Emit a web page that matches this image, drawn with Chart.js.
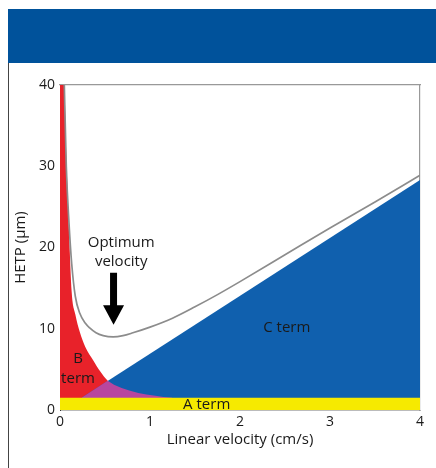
<!DOCTYPE html>
<html lang="en">
<head>
    <meta charset="UTF-8">
    <title>Van Deemter plot</title>
    <style>
        body {
            margin: 0;
            background-color: #ffffff;
            font-family: 'Open Sans', sans-serif;
        }
        #header {
            position: absolute;
            left: 8px;
            top: 9px;
            width: 428px;
            height: 54px;
            background-color: #00529b;
        }
        #panelEdge {
            position: absolute;
            left: 8px;
            top: 63px;
            width: 1px;
            height: 405px;
            background-color: #444;
        }
        #chart {
            position: absolute;
            left: 0;
            top: 0;
        }
    </style>
</head>
<body>
    <div id="header"></div>
    <div id="panelEdge"></div>
    <canvas id="chart" width="436" height="468"></canvas>

    <script src="https://cdn.jsdelivr.net/npm/chart.js"></script>
    <script>
        // Values (x = linear velocity cm/s, y = HETP um)
        const xTicks = [0, 1, 2, 3, 4];
        const yTicks = [0, 10, 20, 30, 40];

        // A term: flat band
        const aTermX = [0, 4];
        const aTermY = [1.5, 1.5];

        // B term: upper edge of the red area
        const bTermX = [0, 0.045, 0.074, 0.1, 0.13, 0.17, 0.22, 0.28, 0.37, 0.45, 0.53, 0.6, 0.685, 0.77, 0.87, 0.96, 1.06, 1.15, 1.25, 4];
        const bTermY = [40, 40, 30, 22, 14.5, 11.8, 9.6, 7.8, 6.1, 4.7, 3.6, 3.1, 2.7, 2.4, 2.1, 1.9, 1.75, 1.6, 1.5, 1.5];

        // C term: straight upper edge of the blue area
        const cTermX = [0.24, 4];
        const cTermY = [1.5, 28.3];

        // overlap of B and C terms (magenta)
        const overlapX = [0.24, 0.53, 0.6, 0.685, 0.77, 0.87, 0.96, 1.06, 1.15, 1.25];
        const overlapY = [1.5, 3.6, 3.1, 2.7, 2.4, 2.1, 1.9, 1.75, 1.6, 1.5];

        // total HETP curve
        const totalX = [0.048, 0.07, 0.1, 0.13, 0.17, 0.22, 0.28, 0.33, 0.4, 0.48, 0.59, 0.7, 0.81, 1.0, 1.25, 1.5, 1.75, 2.0, 2.5, 3.0, 3.5, 4];
        const totalY = [40, 30, 23, 18, 14, 11.9, 10.7, 10.1, 9.5, 9.15, 9.0, 9.15, 9.5, 10.2, 11.3, 12.7, 14.2, 15.8, 19.1, 22.4, 25.6, 28.9];

        function toPoints(xs, ys) {
            return xs.map((x, i) => ({ x: x, y: ys[i] }));
        }

        const FONT = "'Open Sans', sans-serif";
        const INK = '#1a1a1a';

        // text and arrow drawn at data coordinates
        const labels = [
            { text: 'Optimum', x: 0.68, y: 20.6 },
            { text: 'velocity', x: 0.68, y: 18.2 },
            { text: 'B', x: 0.2, y: 6.3 },
            { text: 'term', x: 0.2, y: 3.9 },
            { text: 'A term', x: 1.63, y: 0.6 },
            { text: 'C term', x: 2.52, y: 10.1 }
        ];
        const arrow = { x: 0.595, top: 16.9, headTop: 12.9, tip: 10.5 };

        const notesPlugin = {
            id: 'notes',
            afterDatasetsDraw(chart) {
                const ctx = chart.ctx;
                const xs = chart.scales.x;
                const ys = chart.scales.y;
                ctx.save();
                ctx.fillStyle = INK;
                ctx.font = '15px ' + FONT;
                ctx.textAlign = 'center';
                ctx.textBaseline = 'middle';
                labels.forEach(l => {
                    ctx.fillText(l.text, xs.getPixelForValue(l.x), ys.getPixelForValue(l.y));
                });

                // optimum arrow
                const ax = xs.getPixelForValue(arrow.x);
                const top = ys.getPixelForValue(arrow.top);
                const headTop = ys.getPixelForValue(arrow.headTop);
                const tip = ys.getPixelForValue(arrow.tip);
                ctx.fillStyle = '#000';
                ctx.beginPath();
                ctx.moveTo(ax - 3.5, top);
                ctx.lineTo(ax + 3.5, top);
                ctx.lineTo(ax + 3.5, headTop);
                ctx.lineTo(ax + 10.5, headTop);
                ctx.lineTo(ax, tip);
                ctx.lineTo(ax - 10.5, headTop);
                ctx.lineTo(ax - 3.5, headTop);
                ctx.closePath();
                ctx.fill();
                ctx.restore();
            }
        };

        const ctx = document.getElementById('chart').getContext('2d');
        const chart = new Chart(ctx, {
            type: 'line',
            data: {
                datasets: [
                    {
                        label: 'total',
                        data: toPoints(totalX, totalY),
                        borderColor: '#8c8c8c',
                        borderWidth: 1.7,
                        cubicInterpolationMode: 'monotone',
                        pointRadius: 0,
                        fill: false,
                        order: 1
                    },
                    {
                        label: 'A term',
                        data: toPoints(aTermX, aTermY),
                        borderColor: '#f6ea00',
                        borderWidth: 0,
                        backgroundColor: '#f6ea00',
                        pointRadius: 0,
                        fill: 'origin',
                        order: 2
                    },
                    {
                        label: 'overlap',
                        data: toPoints(overlapX, overlapY),
                        borderColor: '#b8469f',
                        borderWidth: 0,
                        backgroundColor: '#b8469f',
                        tension: 0,
                        pointRadius: 0,
                        fill: 'origin',
                        order: 3
                    },
                    {
                        label: 'C term',
                        data: toPoints(cTermX, cTermY),
                        borderColor: '#1060ae',
                        borderWidth: 0,
                        backgroundColor: '#1060ae',
                        tension: 0,
                        pointRadius: 0,
                        fill: 'origin',
                        order: 4
                    },
                    {
                        label: 'B term',
                        data: toPoints(bTermX, bTermY),
                        borderColor: '#e8222a',
                        borderWidth: 0,
                        backgroundColor: '#e8222a',
                        cubicInterpolationMode: 'monotone',
                        pointRadius: 0,
                        fill: 'origin',
                        order: 5
                    }
                ]
            },
            options: {
                responsive: false,
                animation: false,
                devicePixelRatio: 1,
                layout: {
                    padding: { left: 8, right: 16, top: 85, bottom: 18 }
                },
                plugins: {
                    legend: { display: false },
                    tooltip: { enabled: false }
                },
                scales: {
                    x: {
                        type: 'linear',
                        min: 0,
                        max: 4,
                        afterBuildTicks: s => { s.ticks = xTicks.map(v => ({ value: v })); },
                        afterFit: s => { s.height = 40; },
                        grid: { display: false, drawTicks: false },
                        border: { color: '#bbbbbb', width: 1 },
                        ticks: { color: INK, padding: 4, font: { family: FONT, size: 14 } },
                        title: {
                            display: true,
                            text: 'Linear velocity (cm/s)',
                            color: INK,
                            padding: { top: 0, bottom: 1 },
                            font: { family: FONT, size: 15 }
                        }
                    },
                    y: {
                        type: 'linear',
                        min: 0,
                        max: 40,
                        afterBuildTicks: s => { s.ticks = yTicks.map(v => ({ value: v })); },
                        afterFit: s => { s.width = 52; },
                        grid: { display: false, drawTicks: false },
                        border: { color: '#333333', width: 1 },
                        ticks: { color: INK, padding: 5, font: { family: FONT, size: 14 } },
                        title: {
                            display: true,
                            text: 'HETP (\u00b5m)',
                            color: INK,
                            padding: { top: 4, bottom: 0 },
                            font: { family: FONT, size: 15 }
                        }
                    },
                    xTop: {
                        type: 'linear',
                        position: 'top',
                        min: 0,
                        max: 4,
                        afterFit: s => { s.height = 0; },
                        grid: { display: false, drawTicks: false },
                        ticks: { display: false },
                        border: { color: '#999999', width: 1.2 }
                    },
                    yRight: {
                        type: 'linear',
                        position: 'right',
                        min: 0,
                        max: 40,
                        afterFit: s => { s.width = 0; },
                        grid: { display: false, drawTicks: false },
                        ticks: { display: false },
                        border: { color: '#999999', width: 1.2 }
                    }
                }
            },
            plugins: [notesPlugin]
        });
    </script>
</body>
</html>
